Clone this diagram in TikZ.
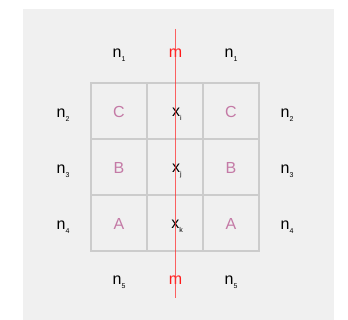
\documentclass[tikz,border=0pt]{standalone}
\usepackage{fontspec}
\setmainfont{Liberation Sans}
\newcommand{\mysub}[1]{\raisebox{-0.45ex}{\fontsize{7}{7}\selectfont #1}}
\definecolor{bggray}{HTML}{F0F0F0}
\definecolor{gridgray}{HTML}{CCCCCC}
\definecolor{pinktext}{HTML}{C47AA6}
\definecolor{mred}{HTML}{FF1A1A}
\definecolor{linered}{HTML}{FF3030}
\begin{document}
\begin{tikzpicture}[x=1pt,y=-1pt,
  lbl/.style={inner sep=0pt,anchor=base,font=\fontsize{16}{16}\selectfont},
  cell/.style={lbl,text=pinktext},
  mlbl/.style={lbl,text=mred},
  gridline/.style={draw=gridgray,line width=1.4pt},
  axis/.style={draw=linered,line width=1.5pt,draw opacity=0.75}]
\useasboundingbox (0,0) rectangle (348,320);
\fill[bggray] (23,9) rectangle (334,320);
% grid
\draw[gridline] (91,83) rectangle (259,251);
\draw[gridline] (147,83) -- (147,251);
\draw[gridline] (203,83) -- (203,251);
\draw[gridline] (91,139) -- (259,139);
\draw[gridline] (91,195) -- (259,195);
% top and bottom labels
\node[lbl] (n1l) at (119,58) {n\mysub{1}};
\node[mlbl] (mt) at (175.5,58) {m};
\node[lbl] (n1r) at (231,58) {n\mysub{1}};
\node[lbl] (n5l) at (119,285) {n\mysub{5}};
\node[mlbl] (mb) at (175.5,285) {m};
\node[lbl] (n5r) at (231,285) {n\mysub{5}};
% side labels
\node[lbl] (n2l) at (63,118) {n\mysub{2}};
\node[lbl] (n3l) at (63,174) {n\mysub{3}};
\node[lbl] (n4l) at (63,230) {n\mysub{4}};
\node[lbl] (n2r) at (287,118) {n\mysub{2}};
\node[lbl] (n3r) at (287,174) {n\mysub{3}};
\node[lbl] (n4r) at (287,230) {n\mysub{4}};
% cells
\node[cell] (cl) at (119,118) {C};
\node[cell] (bl) at (119,174) {B};
\node[cell] (al) at (119,230) {A};
\node[cell] (cr) at (231,118) {C};
\node[cell] (br) at (231,174) {B};
\node[cell] (ar) at (231,230) {A};
\node[lbl] (xi) at (177,117) {x\mysub{i}};
\node[lbl] (xj) at (177,173) {x\mysub{j}};
\node[lbl] (xk) at (177,229) {x\mysub{k}};
% symmetry line
\coordinate (ltop) at (175.5,29);
\coordinate (lbot) at (175.5,298);
\draw[axis] (ltop) -- (lbot);
\end{tikzpicture}
\end{document}
